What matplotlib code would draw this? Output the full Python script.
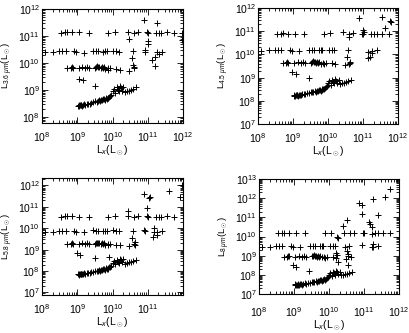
import numpy as np
import matplotlib
matplotlib.use("Agg")
import matplotlib.pyplot as plt
from matplotlib.ticker import LogLocator, LogFormatterMathtext, NullFormatter

plt.rcParams['font.family'] = ['Liberation Sans', 'DejaVu Sans']
plt.rcParams['mathtext.fontset'] = 'custom'
plt.rcParams['mathtext.rm'] = 'Liberation Sans'
plt.rcParams['mathtext.it'] = 'Liberation Sans:italic'
plt.rcParams['mathtext.bf'] = 'Liberation Sans:bold'

# ---- data (log10 of luminosities in L_sun) ----
ROW_A_LX = [8.53, 8.65, 8.70, 8.86, 9.06, 9.32, 9.88, 10.07, 10.44, 10.60, 10.72, 10.97, 11.00, 11.23, 11.32, 11.39, 11.55, 11.74]
ROW_B_LX = [8.09, 8.30, 8.48, 8.56, 8.67, 8.90, 8.97, 9.18, 9.46, 9.53, 9.60, 9.74, 9.79, 9.83, 10.02, 10.11, 10.18, 10.58, 11.27, 11.41]
ROW_C_LX = [8.72, 8.81, 8.84, 8.87, 9.04, 9.13, 9.23, 9.28, 9.34, 9.51, 9.53, 9.57, 9.60, 9.63, 9.66, 9.69, 9.72, 9.75, 9.79, 9.86, 9.88, 9.93, 10.11, 10.20, 10.48, 10.62]
DIAG_LX = [9.02, 9.04, 9.06, 9.08, 9.10, 9.12, 9.14, 9.17, 9.20, 9.23, 9.27, 9.31, 9.35, 9.40, 9.45, 9.50, 9.55, 9.58, 9.62, 9.65, 9.68, 9.71, 9.74, 9.77, 9.80, 9.82, 9.84, 9.86, 9.88, 9.90, 9.93, 9.96, 10.00, 10.04, 10.08, 10.12, 10.15, 10.18, 10.21, 10.24, 10.27, 10.30, 10.35, 10.40, 10.46, 10.52, 10.58, 10.66]

P1_A = [11.12, 11.14, 11.15, 11.16, 11.14, 11.13, 11.13, 11.16, 11.14, 11.13, 11.15, 11.14, 11.12, 11.10, 11.12, 11.13, 11.15, 11.12]
P2_A = [10.88, 10.90, 10.91, 10.90, 10.89, 10.88, 10.89, 10.92, 10.95, 10.90, 10.91, 10.90, 10.88, 10.87, 10.89, 10.88, 10.90, 10.89]
P3_A = [10.55, 10.56, 10.58, 10.56, 10.55, 10.54, 10.55, 10.58, 10.56, 10.55, 10.57, 10.56, 10.54, 10.53, 10.55, 10.54, 10.56, 10.55]
P4_A = [10.17, 10.19, 10.20, 10.18, 10.17, 10.16, 10.17, 10.20, 10.18, 10.17, 10.19, 10.18, 10.16, 10.15, 10.17, 10.16, 10.18, 10.17]

P1_B = [10.40, 10.41, 10.44, 10.45, 10.43, 10.44, 10.40, 10.38, 10.46, 10.44, 10.43, 10.42, 10.45, 10.44, 10.46, 10.43, 10.42, 10.44, 10.40, 10.42]
P2_B = [10.15, 10.17, 10.19, 10.20, 10.18, 10.19, 10.15, 10.13, 10.21, 10.19, 10.18, 10.17, 10.20, 10.19, 10.21, 10.18, 10.17, 10.19, 10.15, 10.17]
P3_B = [9.82, 9.84, 9.88, 9.89, 9.87, 9.88, 9.84, 9.81, 9.90, 9.88, 9.87, 9.86, 9.89, 9.88, 9.90, 9.87, 9.86, 9.88, 9.83, 9.86]
P4_B = [9.44, 9.46, 9.50, 9.51, 9.49, 9.50, 9.46, 9.43, 9.52, 9.50, 9.49, 9.48, 9.51, 9.50, 9.52, 9.49, 9.48, 9.50, 9.46, 9.48]

P1_C = [9.80, 9.82, 9.85, 9.83, 9.81, 9.84, 9.82, 9.86, 9.80, 9.83, 9.85, 9.88, 9.84, 9.86, 9.82, 9.87, 9.80, 9.84, 9.78, 9.82, 9.75, 9.80, 9.79, 9.76, 9.72, 9.82]
P2_C = [9.62, 9.64, 9.67, 9.65, 9.63, 9.66, 9.64, 9.68, 9.62, 9.65, 9.67, 9.70, 9.66, 9.68, 9.64, 9.69, 9.62, 9.66, 9.60, 9.64, 9.57, 9.62, 9.61, 9.58, 9.54, 9.64]
P3_C = [9.25, 9.27, 9.30, 9.28, 9.26, 9.29, 9.27, 9.31, 9.25, 9.28, 9.30, 9.33, 9.29, 9.31, 9.27, 9.32, 9.25, 9.29, 9.23, 9.27, 9.20, 9.25, 9.24, 9.21, 9.17, 9.27]
P4_C = [8.93, 8.95, 8.98, 8.96, 8.94, 8.97, 8.95, 8.99, 8.93, 8.96, 8.98, 9.01, 8.97, 8.99, 8.95, 9.00, 8.93, 8.97, 8.91, 8.95, 8.88, 8.93, 8.92, 8.89, 8.85, 8.95]

P1_D = [8.42, 8.45, 8.41, 8.44, 8.43, 8.46, 8.42, 8.45, 8.47, 8.44, 8.48, 8.50, 8.49, 8.53, 8.55, 8.58, 8.56, 8.60, 8.62, 8.60, 8.64, 8.63, 8.66, 8.68, 8.64, 8.70, 8.67, 8.72, 8.69, 8.75, 8.78, 8.82, 8.95, 9.05, 8.90, 9.10, 9.02, 8.96, 9.15, 9.08, 8.98, 9.12, 8.92, 8.95, 8.98, 9.00, 9.04, 9.10]
P2_D = [8.22, 8.25, 8.21, 8.24, 8.23, 8.26, 8.22, 8.25, 8.27, 8.24, 8.28, 8.30, 8.29, 8.33, 8.35, 8.38, 8.36, 8.40, 8.42, 8.40, 8.44, 8.43, 8.46, 8.48, 8.44, 8.50, 8.47, 8.52, 8.49, 8.55, 8.58, 8.62, 8.75, 8.85, 8.70, 8.88, 8.80, 8.76, 8.92, 8.86, 8.78, 8.90, 8.72, 8.75, 8.78, 8.80, 8.84, 8.88]
P3_D = [7.84, 7.87, 7.83, 7.86, 7.85, 7.88, 7.84, 7.87, 7.89, 7.86, 7.90, 7.92, 7.91, 7.95, 7.97, 8.00, 7.98, 8.02, 8.04, 8.02, 8.06, 8.05, 8.08, 8.10, 8.06, 8.12, 8.09, 8.14, 8.11, 8.17, 8.20, 8.24, 8.37, 8.47, 8.32, 8.52, 8.44, 8.38, 8.57, 8.50, 8.40, 8.54, 8.34, 8.37, 8.40, 8.42, 8.46, 8.52]
P4_D = [7.47, 7.50, 7.46, 7.49, 7.48, 7.51, 7.47, 7.50, 7.52, 7.49, 7.53, 7.55, 7.54, 7.58, 7.60, 7.63, 7.61, 7.65, 7.67, 7.65, 7.69, 7.68, 7.71, 7.73, 7.69, 7.75, 7.72, 7.77, 7.74, 7.80, 7.83, 7.87, 8.00, 8.10, 7.95, 8.15, 8.07, 8.01, 8.20, 8.13, 8.03, 8.17, 7.97, 8.00, 8.03, 8.05, 8.09, 8.15]

P1_SC_LX = [10.90, 11.27, 11.98, 11.98, 10.48, 11.00, 11.00, 10.92, 10.92, 11.13, 11.20, 11.20, 11.32, 10.58, 10.62, 10.55, 9.06, 9.15, 9.51]
P1_SC_LY = [11.59, 11.47, 11.10, 10.86, 10.90, 10.80, 10.72, 10.48, 10.40, 10.12, 10.24, 9.88, 10.32, 9.94, 9.85, 10.20, 9.42, 9.36, 9.16]
P2_SC_LX = [10.89, 11.53, 11.77, 11.79, 11.63, 11.00, 11.02, 10.60, 11.15, 11.20, 11.15, 11.25, 10.55, 10.63, 10.60, 8.98, 9.08, 9.47]
P2_SC_LY = [11.55, 11.60, 11.44, 11.38, 11.12, 11.05, 10.98, 10.74, 10.12, 9.90, 9.83, 10.05, 9.90, 9.69, 9.60, 9.26, 9.16, 9.00]
P3_SC_LX = [10.88, 11.03, 11.05, 11.59, 11.92, 11.98, 10.44, 10.98, 10.88, 10.92, 11.17, 11.19, 11.15, 11.26, 10.55, 10.63, 10.65, 8.99, 9.09, 9.51, 9.89]
P3_SC_LY = [11.60, 11.40, 11.47, 11.75, 11.48, 12.00, 10.83, 10.94, 9.92, 9.86, 10.03, 9.84, 9.60, 9.69, 9.53, 9.34, 9.22, 8.83, 8.75, 8.60, 8.67]
P4_SC_LX = [11.74, 11.60, 11.27, 10.86, 10.95, 10.93, 11.41, 11.14, 11.17, 11.22, 10.50, 10.39, 10.22, 10.26, 10.46, 10.50, 10.55, 10.53, 10.19, 10.24, 10.27, 10.55, 10.93, 11.22, 11.27, 8.98, 9.05, 9.43]
P4_SC_LY = [12.48, 12.04, 11.94, 11.73, 11.64, 11.16, 11.12, 10.74, 10.63, 10.51, 10.86, 10.55, 9.99, 9.94, 9.47, 9.24, 9.08, 9.00, 9.16, 9.02, 8.69, 8.51, 9.56, 9.47, 9.60, 8.51, 8.43, 8.20]

YLABELS = [r'L$_{3.6\ \mu m}$(L$_\odot$)', r'L$_{4.5\ \mu m}$(L$_\odot$)',
           r'L$_{5.8\ \mu m}$(L$_\odot$)', r'L$_{8\ \mu m}$(L$_\odot$)']
XLABEL = r'L$_x$(L$_\odot$)'
YLIMS = [(10**7.78, 1e12), (1e7, 1e12), (10**6.88, 10**12.35), (1e7, 1e13)]
XLIM = (1e8, 1e12)

PANELS = [
    (P1_A, P1_B, P1_C, P1_D, P1_SC_LX, P1_SC_LY),
    (P2_A, P2_B, P2_C, P2_D, P2_SC_LX, P2_SC_LY),
    (P3_A, P3_B, P3_C, P3_D, P3_SC_LX, P3_SC_LY),
    (P4_A, P4_B, P4_C, P4_D, P4_SC_LX, P4_SC_LY),
]

# axes rectangles in pixels (left, top, right, bottom) for a 409x333 figure
W, H = 409, 333
RECTS = [(42, 9, 183, 123), (258, 8, 398, 124), (42, 178, 183, 295), (259, 179, 399, 294)]
XPADS = [5, 5, 5, 8]

fig = plt.figure(figsize=(W / 100, H / 100), dpi=100)
for i, (rect, pdata) in enumerate(zip(RECTS, PANELS)):
    l, t, r, b = rect
    ax = fig.add_axes([l / W, 1 - b / H, (r - l) / W, (b - t) / H])
    ya, yb, yc, yd, sx, sy = pdata
    lx = ROW_A_LX + ROW_B_LX + ROW_C_LX + DIAG_LX + sx
    ly = ya + yb + yc + yd + sy
    ax.plot(10 ** np.array(lx), 10 ** np.array(ly), linestyle='none', marker='+',
            color='black', ms=4.5, mew=0.7)
    ax.set_xscale('log')
    ax.set_yscale('log')
    ax.set_xlim(*XLIM)
    ax.set_ylim(*YLIMS[i])
    ax.xaxis.set_major_locator(LogLocator(base=10, numticks=20))
    ax.yaxis.set_major_locator(LogLocator(base=10, numticks=20))
    ax.xaxis.set_minor_locator(LogLocator(base=10, subs=np.arange(2, 10), numticks=50))
    ax.yaxis.set_minor_locator(LogLocator(base=10, subs=np.arange(2, 10), numticks=50))
    ax.xaxis.set_major_formatter(LogFormatterMathtext())
    ax.yaxis.set_major_formatter(LogFormatterMathtext())
    ax.xaxis.set_minor_formatter(NullFormatter())
    ax.yaxis.set_minor_formatter(NullFormatter())
    if i == 2:
        ax.set_xticks([1e8, 1e9, 1e10, 1e11])
    ax.tick_params(which='both', direction='in', top=True, right=True, width=0.6,
                   labelsize=7.5)
    ax.tick_params(axis='x', pad=XPADS[i])
    ax.tick_params(axis='y', pad=1.5)
    ax.tick_params(which='major', length=4)
    ax.tick_params(which='minor', length=2)
    for s in ax.spines.values():
        s.set_linewidth(0.8)
    ax.set_xlabel(XLABEL, fontsize=7.5, labelpad=0)
    ax.set_ylabel(YLABELS[i], fontsize=6.8)
    ax.yaxis.set_label_coords(-0.19, 0.5)

fig.savefig('out.png', dpi=100)
